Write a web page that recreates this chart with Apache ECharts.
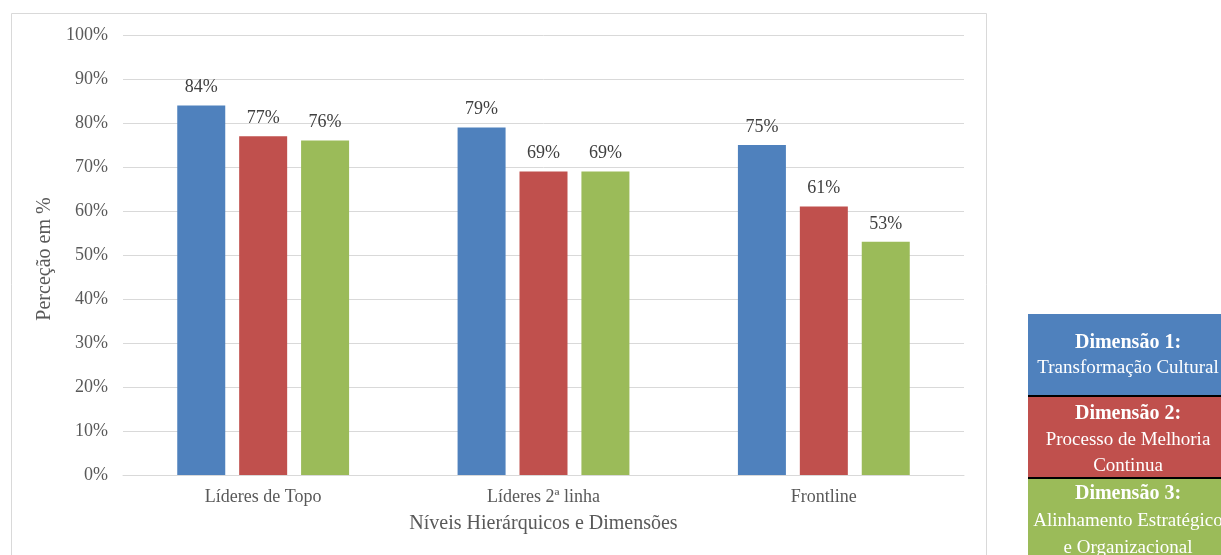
<!DOCTYPE html>
<html>
<head>
<meta charset="utf-8">
<script src="https://cdn.jsdelivr.net/npm/echarts@6/dist/echarts.min.js"></script>
<style>
  html, body { margin: 0; padding: 0; background: #fff; }
  #chart { width: 1221px; height: 555px; }
</style>
</head>
<body>
<div id="chart"></div>
<script>
// Hierarchical levels and perception (%) per dimension
const categories = ['Líderes de Topo', 'Líderes 2ª linha', 'Frontline'];
const dimensao1 = [84, 79, 75];
const dimensao2 = [77, 69, 61];
const dimensao3 = [76, 69, 53];
const yTicks = [0, 10, 20, 30, 40, 50, 60, 70, 80, 90, 100];

const seriesNames = ['Dimensão 1', 'Dimensão 2', 'Dimensão 3'];
const seriesColors = ['#4F81BD', '#C0504D', '#9BBB59'];
const legendTitles = ['Dimensão 1:', 'Dimensão 2:', 'Dimensão 3:'];
const legendLines = [
  ['Transformação Cultural'],
  ['Processo de Melhoria', 'Continua'],
  ['Alinhamento Estratégico', 'e Organizacional']
];

const serif = '"Liberation Serif", "DejaVu Serif", serif';
const chart = echarts.init(document.getElementById('chart'));

// Legend panel built as stacked colour boxes on the right
const legendBoxes = [
  { y: 314, h: 81 },
  { y: 397, h: 80 },
  { y: 479, h: 90 }
];
const legendTextY = [[343, 368], [414, 440, 466], [494, 521, 548]];
const graphics = [
  { type: 'rect', shape: { x: 11.5, y: 13.5, width: 975, height: 560 },
    style: { fill: 'none', stroke: '#D9D9D9', lineWidth: 1 }, silent: true },
  { type: 'rect', shape: { x: 1028, y: 394, width: 200, height: 86 },
    style: { fill: '#000' }, silent: true }
];
legendBoxes.forEach((b, i) => {
  graphics.push({ type: 'rect', shape: { x: 1028, y: b.y, width: 200, height: b.h },
    style: { fill: seriesColors[i] }, silent: true });
  const ys = legendTextY[i];
  graphics.push({ type: 'text', x: 1128, y: ys[0],
    style: { text: legendTitles[i], fill: '#fff', font: 'bold 20px ' + serif,
             align: 'center', verticalAlign: 'middle' }, silent: true });
  legendLines[i].forEach((t, k) => {
    graphics.push({ type: 'text', x: 1128, y: ys[k + 1],
      style: { text: t, fill: '#fff', font: '19px ' + serif,
               align: 'center', verticalAlign: 'middle' }, silent: true });
  });
});

const values = [dimensao1, dimensao2, dimensao3];

chart.setOption({
  animation: false,
  backgroundColor: '#fff',
  textStyle: { fontFamily: serif },
  grid: { left: 123, right: 257, top: 35, bottom: 80 },
  xAxis: {
    type: 'category',
    data: categories,
    name: 'Níveis Hierárquicos e Dimensões',
    nameLocation: 'middle',
    nameGap: 39,
    nameTextStyle: { fontSize: 20, color: '#595959', fontFamily: serif },
    axisLine: { lineStyle: { color: '#D9D9D9' } },
    axisTick: { show: false },
    axisLabel: { fontSize: 18, color: '#595959', margin: 13, fontFamily: serif }
  },
  yAxis: {
    type: 'value',
    min: yTicks[0],
    max: yTicks[yTicks.length - 1],
    interval: yTicks[1] - yTicks[0],
    name: 'Perceção em %',
    nameLocation: 'middle',
    nameGap: 61,
    nameRotate: 90,
    nameTextStyle: { fontSize: 20, color: '#595959', fontFamily: serif, padding: [0, 8, 0, 0] },
    axisLine: { show: false },
    axisTick: { show: false },
    splitLine: { lineStyle: { color: '#D9D9D9' } },
    axisLabel: { formatter: '{value}%', fontSize: 18, color: '#595959', margin: 15, fontFamily: serif }
  },
  graphic: graphics,
  series: values.map((v, i) => ({
    name: seriesNames[i],
    type: 'bar',
    data: v,
    barWidth: 48,
    barGap: '29%',
    itemStyle: { color: seriesColors[i] },
    label: {
      show: true,
      position: 'top',
      distance: 9,
      formatter: '{c}%',
      fontSize: 18,
      color: '#404040',
      fontFamily: serif
    }
  }))
});
</script>
</body>
</html>
